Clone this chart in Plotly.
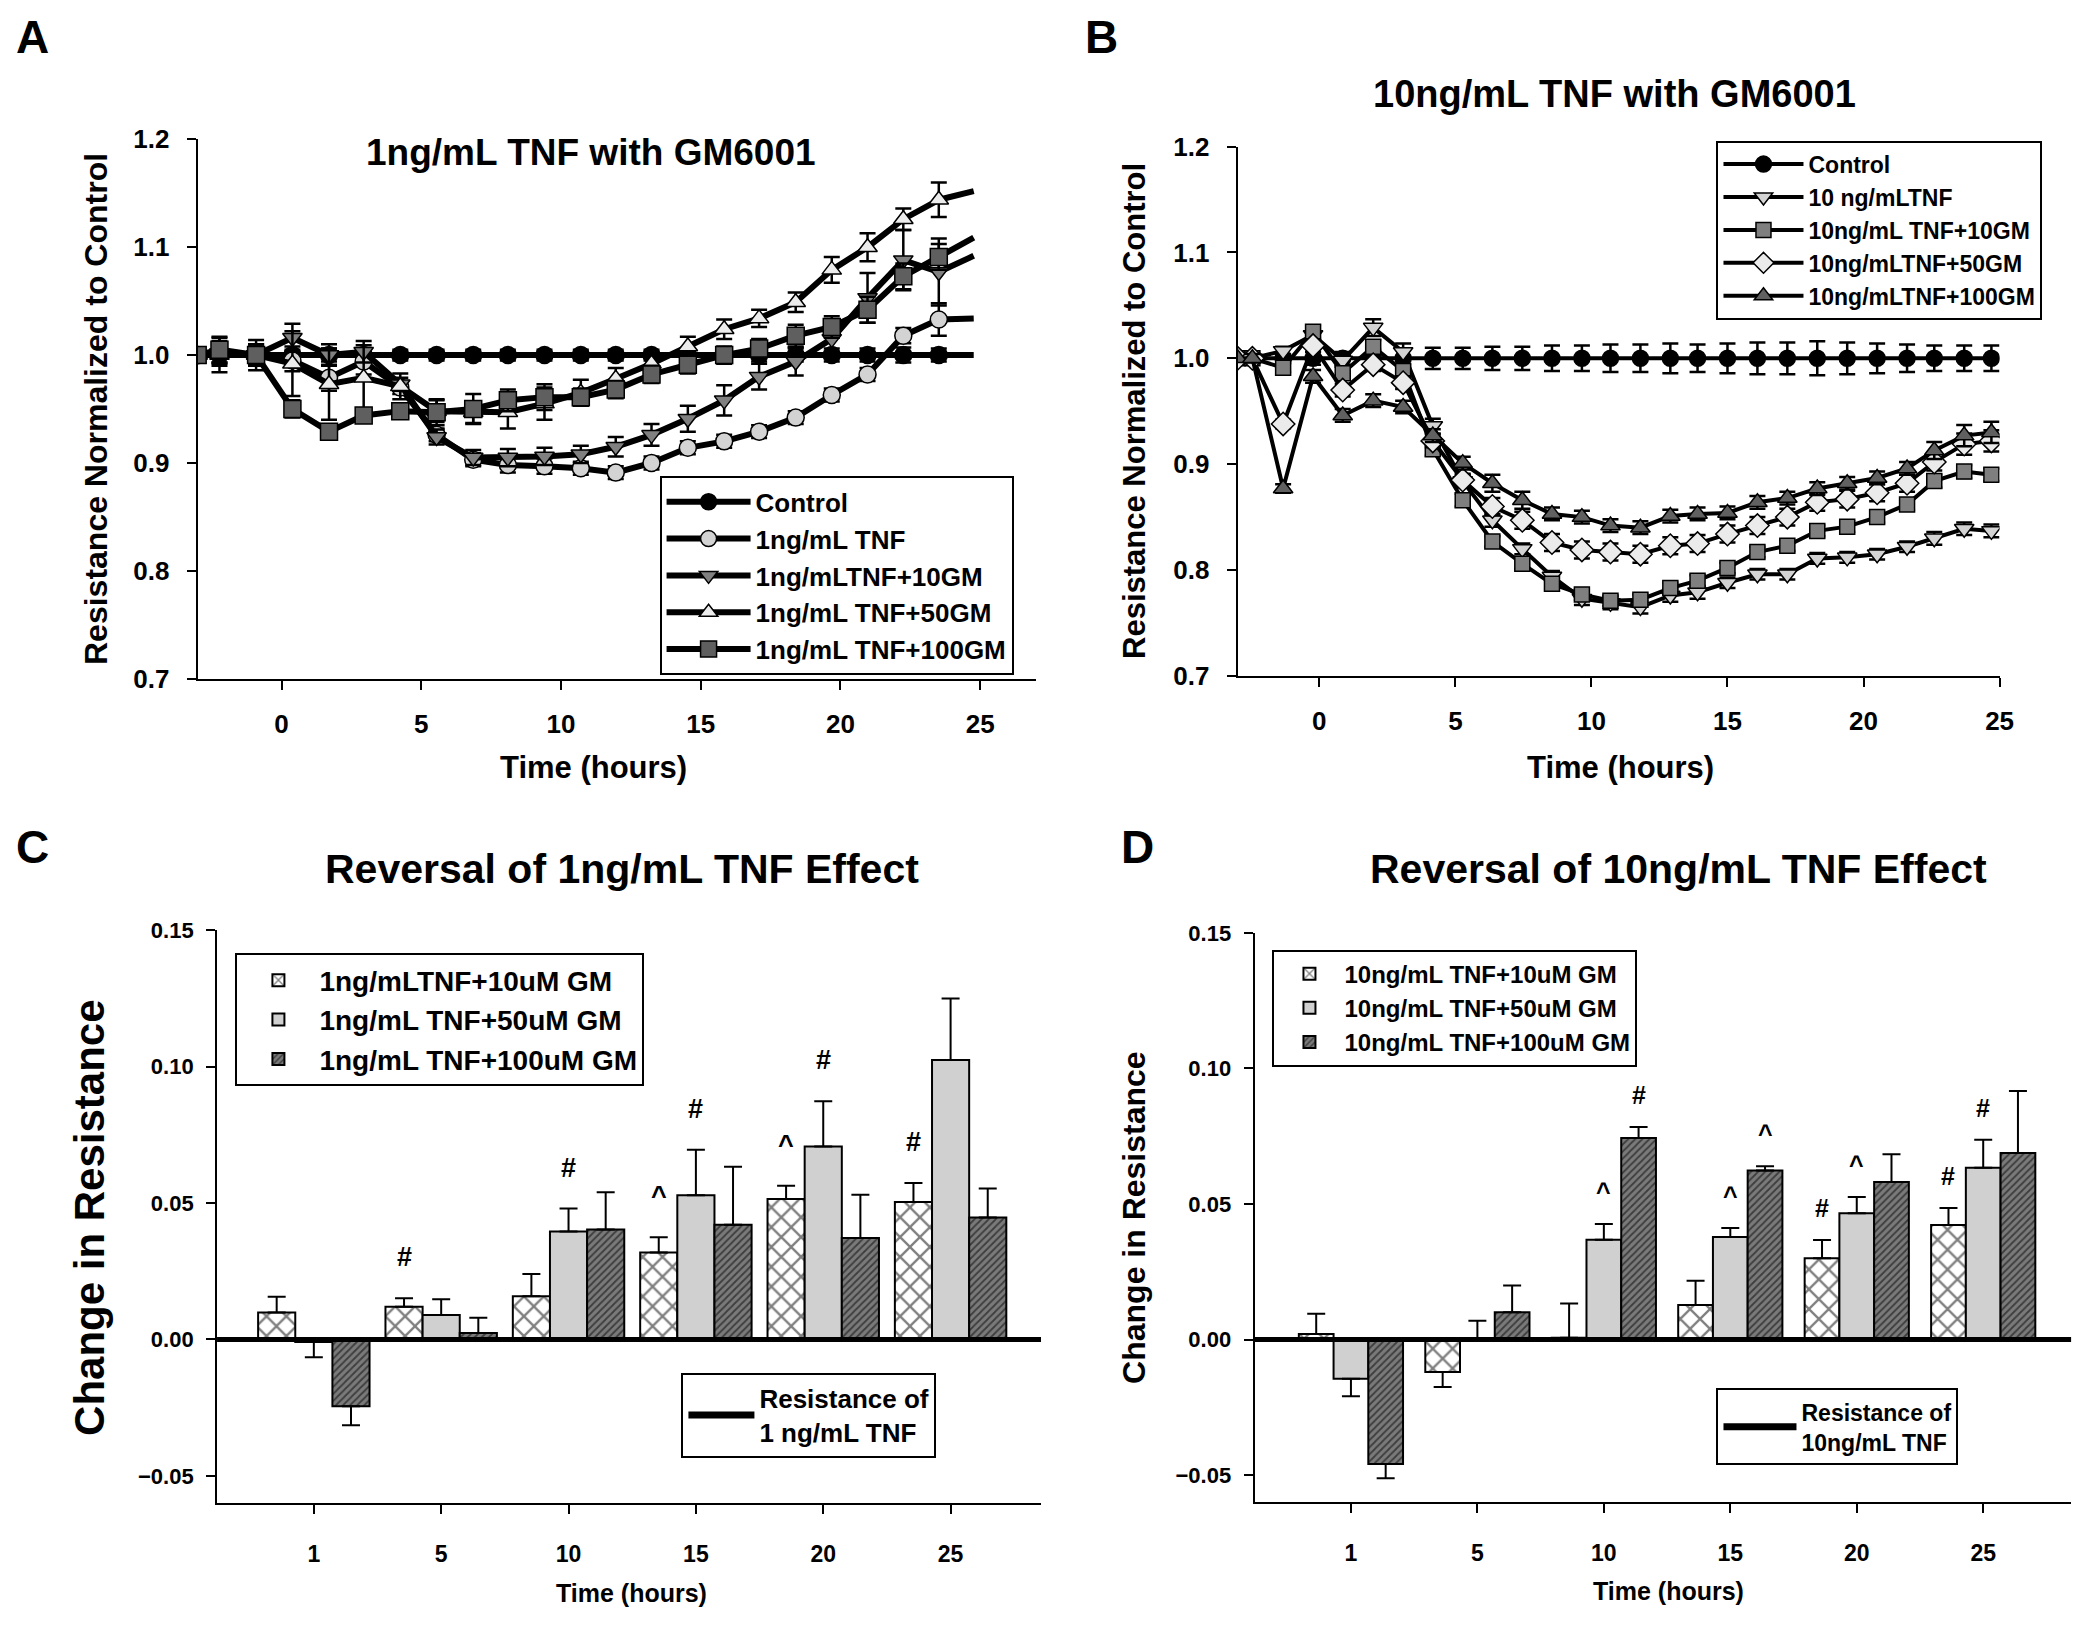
import plotly.graph_objects as go

W, H = 2100, 1635
FONT = "Liberation Sans, Arial, sans-serif"

# ---------------- Panel A: 1ng/mL TNF with GM6001 ----------------
time_a = [-3.0, -2.22, -0.91, 0.39, 1.70, 2.94, 4.25, 5.55, 6.86, 8.10, 9.41, 10.71,
          11.96, 13.24, 14.54, 15.84, 17.09, 18.40, 19.69, 20.97, 22.25, 23.52, 24.77]
a_control = [1.0, 1.0, 1.0, 1.0, 1.0, 1.0, 1.0, 1.0, 1.0, 1.0, 1.0, 1.0,
             1.0, 1.0, 1.0, 1.0, 1.0, 1.0, 1.0, 1.0, 1.0, 1.0, 1.0]
a_tnf = [1.0, 1.003, 1.0, 0.995, 0.979, 0.994, 0.970, 0.926, 0.903, 0.898, 0.897, 0.895,
         0.891, 0.900, 0.914, 0.920, 0.929, 0.942, 0.963, 0.982, 1.018, 1.033, 1.034]
a_10gm = [1.0, 1.002, 1.0, 1.016, 1.0, 1.003, 0.973, 0.924, 0.905, 0.905, 0.906, 0.908,
          0.915, 0.926, 0.941, 0.958, 0.980, 0.994, 1.015, 1.053, 1.088, 1.077, 1.092]
a_50gm = [1.0, 1.0, 1.0, 0.992, 0.973, 0.979, 0.971, 0.948, 0.947, 0.947, 0.955, 0.965,
          0.978, 0.992, 1.008, 1.024, 1.034, 1.049, 1.079, 1.100, 1.126, 1.144, 1.152]
a_100gm = [1.0, 1.005, 1.0, 0.950, 0.929, 0.944, 0.948, 0.947, 0.950, 0.958, 0.961, 0.961,
           0.968, 0.982, 0.991, 1.0, 1.006, 1.018, 1.026, 1.042, 1.073, 1.091, 1.109]
a_control_err = [0, 0.016, 0.014, 0.008, 0.006, 0.005, 0.005, 0.005, 0.005, 0.005, 0.005, 0.005,
                 0.005, 0.005, 0.005, 0.006, 0.006, 0.006, 0.006, 0.006, 0.007, 0.006, 0]
a_tnf_err = [0, 0.010, 0.008, 0.010, 0.012, 0.012, 0.006, 0.006, 0.006, 0.007, 0.007, 0.006,
             0.006, 0.006, 0.006, 0.006, 0.006, 0.006, 0.006, 0.006, 0.007, 0.015, 0]
a_10gm_err = [0, 0.010, 0.010, 0.013, 0.010, 0.010, 0.006, 0.007, 0.007, 0.008, 0.008, 0.008,
              0.009, 0.010, 0.012, 0.014, 0.012, 0.013, 0.012, 0.023, 0.028, 0.031, 0]
a_50gm_err = [0, 0.010, 0.010, 0.030, 0.033, 0.030, 0.012, 0.010, 0.010, 0.015, 0.015, 0.012,
              0.010, 0.010, 0.009, 0.009, 0.008, 0.009, 0.012, 0.013, 0.010, 0.016, 0]
a_100gm_err = [0, 0.012, 0.010, 0.008, 0.006, 0.006, 0.006, 0.012, 0.014, 0.010, 0.012, 0.008,
               0.008, 0.008, 0.008, 0.008, 0.009, 0.010, 0.010, 0.012, 0.012, 0.012, 0]

# ---------------- Panel B: 10ng/mL TNF with GM6001 ----------------
time_b = [-3.0, -2.46, -1.33, -0.23, 0.86, 1.98, 3.08, 4.17, 5.27, 6.36, 7.46, 8.55, 9.65, 10.7,
          11.8, 12.9, 13.9, 15.0, 16.1, 17.2, 18.3, 19.4, 20.5, 21.6, 22.6, 23.7, 24.7]
b_control = [1.0, 1.0, 1.0, 1.0, 1.0, 1.0, 1.0, 1.0, 1.0, 1.0, 1.0, 1.0, 1.0, 1.0,
             1.0, 1.0, 1.0, 1.0, 1.0, 1.0, 1.0, 1.0, 1.0, 1.0, 1.0, 1.0, 1.0]
b_tnf = [1.0, 1.0, 1.007, 1.022, 0.998, 1.029, 1.006, 0.936, 0.884, 0.847, 0.820, 0.794, 0.773, 0.769,
         0.765, 0.776, 0.779, 0.788, 0.796, 0.796, 0.811, 0.812, 0.815, 0.822, 0.830, 0.839, 0.837]
b_10gm = [1.0, 1.0, 0.991, 1.025, 0.986, 1.011, 0.988, 0.914, 0.866, 0.827, 0.806, 0.787, 0.777, 0.771,
          0.772, 0.783, 0.790, 0.802, 0.817, 0.823, 0.837, 0.841, 0.850, 0.862, 0.884, 0.893, 0.890]
b_50gm = [1.0, 1.0, 0.938, 1.012, 0.970, 0.994, 0.977, 0.922, 0.885, 0.860, 0.847, 0.826, 0.819, 0.817,
          0.815, 0.823, 0.825, 0.834, 0.842, 0.850, 0.864, 0.867, 0.873, 0.882, 0.902, 0.919, 0.922]
b_100gm = [1.0, 1.0, 0.877, 0.983, 0.946, 0.960, 0.954, 0.927, 0.901, 0.882, 0.866, 0.853, 0.850, 0.842,
           0.840, 0.851, 0.853, 0.854, 0.864, 0.868, 0.877, 0.882, 0.887, 0.896, 0.913, 0.927, 0.930]
b_control_err = [0, 0.004, 0.004, 0.006, 0.006, 0.008, 0.009, 0.010, 0.010, 0.011, 0.011, 0.012, 0.012, 0.013,
                 0.013, 0.014, 0.013, 0.014, 0.015, 0.015, 0.016, 0.015, 0.014, 0.013, 0.012, 0.012, 0.012]
b_tnf_err = [0, 0.004, 0.004, 0.006, 0.006, 0.008, 0.008, 0.007, 0.006, 0.006, 0.005, 0.005, 0.006, 0.006,
             0.006, 0.006, 0.006, 0.005, 0.005, 0.005, 0.005, 0.005, 0.005, 0.005, 0.006, 0.006, 0.006]
b_10gm_err = [0, 0.004, 0.004, 0.006, 0.006, 0.006, 0.006, 0.006, 0.006, 0.005, 0.005, 0.005, 0.005, 0.005,
              0.005, 0.005, 0.005, 0.005, 0.005, 0.005, 0.005, 0.005, 0.005, 0.005, 0.006, 0.006, 0.006]
b_50gm_err = [0, 0.004, 0.004, 0.006, 0.006, 0.006, 0.006, 0.006, 0.006, 0.008, 0.008, 0.008, 0.008, 0.008,
              0.008, 0.008, 0.008, 0.008, 0.008, 0.008, 0.008, 0.008, 0.008, 0.008, 0.008, 0.010, 0.010]
b_100gm_err = [0, 0.004, 0.004, 0.006, 0.006, 0.006, 0.006, 0.006, 0.006, 0.008, 0.008, 0.006, 0.006, 0.006,
               0.006, 0.006, 0.006, 0.006, 0.006, 0.006, 0.006, 0.006, 0.006, 0.006, 0.008, 0.010, 0.010]

# ---------------- Panels C / D: change in resistance ----------------
bar_times = ["1", "5", "10", "15", "20", "25"]
c_10 = [0.0099, 0.0120, 0.0158, 0.0319, 0.0515, 0.0504]
c_10_err = [0.0058, 0.0031, 0.0082, 0.0056, 0.0048, 0.0069]
c_50 = [-0.0009, 0.0090, 0.0396, 0.0529, 0.0707, 0.1024]
c_50_err = [0.0056, 0.0057, 0.0084, 0.0166, 0.0166, 0.0226]
c_100 = [-0.0245, 0.0024, 0.0403, 0.0420, 0.0372, 0.0447]
c_100_err = [0.0069, 0.0056, 0.0137, 0.0213, 0.0158, 0.0106]
c_marks = [(1, 0, "#"), (2, 1, "#"), (3, 0, "^"), (3, 1, "#"), (4, 0, "^"), (4, 1, "#"), (5, 0, "#")]

d_10 = [0.0020, -0.0120, 0.0007, 0.0127, 0.0300, 0.0422]
d_10_err = [0.0075, 0.0055, 0.0126, 0.0090, 0.0067, 0.0063]
d_50 = [-0.0145, 0.0003, 0.0368, 0.0378, 0.0466, 0.0634]
d_50_err = [0.0064, 0.0066, 0.0058, 0.0033, 0.0060, 0.0103]
d_100 = [-0.0459, 0.0101, 0.0743, 0.0623, 0.0581, 0.0688]
d_100_err = [0.0053, 0.0098, 0.0041, 0.0016, 0.0102, 0.0229]
d_marks = [(2, 1, "^"), (2, 2, "#"), (3, 1, "^"), (3, 2, "^"), (4, 0, "#"), (4, 1, "^"), (5, 0, "#"), (5, 1, "#")]


def px(x):
    return x / W


def py(y):
    return 1 - y / H


def bold(size):
    return dict(family=FONT, size=size, color="black", weight="bold")


fig = go.Figure()


def add_line(t, y, err, name, symbol, color, xa, ya, legend, msize, lw, tail=False):
    if tail:
        # the line runs on past the last plotted marker
        fig.add_trace(go.Scatter(x=t[-2:], y=y[-2:], mode="lines", showlegend=False,
                                 line=dict(color="black", width=lw), xaxis=xa, yaxis=ya,
                                 hoverinfo="skip"))
        t, y, err = t[:-1], y[:-1], err[:-1]
    fig.add_trace(go.Scatter(
        x=t, y=y, name=name, mode="lines+markers", legend=legend, xaxis=xa, yaxis=ya,
        line=dict(color="black", width=lw),
        marker=dict(symbol=symbol, size=msize, color=color, line=dict(color="black", width=1.5)),
        error_y=dict(type="data", array=err, color="black", thickness=2.5, width=8),
    ))


for y, e, name, sym, col in [
    (a_control, a_control_err, "Control", "circle", "black"),
    (a_tnf, a_tnf_err, "1ng/mL TNF", "circle", "#d3d3d3"),
    (a_10gm, a_10gm_err, "1ng/mLTNF+10GM", "triangle-down", "#808080"),
    (a_50gm, a_50gm_err, "1ng/mL TNF+50GM", "triangle-up", "#ececec"),
    (a_100gm, a_100gm_err, "1ng/mL TNF+100GM", "square", "#5f5f5f"),
]:
    add_line(time_a, y, e, name, sym, col, "x", "y", "legend", 17, 6, tail=True)

for y, e, name, sym, col, ms in [
    (b_control, b_control_err, "Control", "circle", "black", 16),
    (b_tnf, b_tnf_err, "10 ng/mLTNF", "triangle-down", "#d3d3d3", 17),
    (b_10gm, b_10gm_err, "10ng/mL TNF+10GM", "square", "#7f7f7f", 15),
    (b_50gm, b_50gm_err, "10ng/mLTNF+50GM", "diamond", "#ebebeb", 18),
    (b_100gm, b_100gm_err, "10ng/mLTNF+100GM", "triangle-up", "#606060", 17),
]:
    add_line(time_b, y, e, name, sym, col, "x2", "y2", "legend2", ms, 4)

cross = dict(color="white", pattern=dict(shape="x", fgcolor="black", bgcolor="white", size=14, solidity=0.3))
gray = dict(color="#d0d0d0")
hatch = dict(color="#7a7a7a", pattern=dict(shape="/", fgcolor="black", bgcolor="#7a7a7a", size=5, solidity=0.35))


def add_bars(series, xa, ya, legend, gap):
    width = (1 - gap) / 3
    offsets = [-1.5 * width, -0.5 * width, 0.5 * width]
    for i, (vals, errs, name, style) in enumerate(series):
        up = [e if v >= 0 else 0 for v, e in zip(vals, errs)]
        down = [e if v < 0 else 0 for v, e in zip(vals, errs)]
        fig.add_trace(go.Bar(
            x=bar_times, y=vals, name=name, legend=legend, xaxis=xa, yaxis=ya,
            width=width, offset=offsets[i],
            marker=dict(line=dict(color="black", width=2), **style),
            error_y=dict(type="data", symmetric=False, array=up, arrayminus=down,
                         color="black", thickness=2, width=9),
        ))
    return width, offsets


c_series = [(c_10, c_10_err, "1ng/mLTNF+10uM GM", cross),
            (c_50, c_50_err, "1ng/mL TNF+50uM GM", gray),
            (c_100, c_100_err, "1ng/mL TNF+100uM GM", hatch)]
d_series = [(d_10, d_10_err, "10ng/mL TNF+10uM GM", cross),
            (d_50, d_50_err, "10ng/mL TNF+50uM GM", gray),
            (d_100, d_100_err, "10ng/mL TNF+100uM GM", hatch)]
c_w, c_off = add_bars(c_series, "x3", "y3", "legend3", 0.125)
d_w, d_off = add_bars(d_series, "x4", "y4", "legend5", 0.176)

# legend-only entries for the reference line at zero
fig.add_trace(go.Scatter(x=[None], y=[None], mode="lines", name="Resistance of<br>1 ng/mL TNF",
                         line=dict(color="black", width=7), legend="legend4", xaxis="x3", yaxis="y3"))
fig.add_trace(go.Scatter(x=[None], y=[None], mode="lines", name="Resistance of<br>10ng/mL TNF",
                         line=dict(color="black", width=7), legend="legend6", xaxis="x4", yaxis="y4"))
for xa, ya in [("x3", "y3"), ("x4", "y4")]:
    fig.add_shape(type="line", xref=xa + " domain", yref=ya, x0=0, x1=1, y0=0, y1=0,
                  line=dict(color="black", width=5), layer="above")

ann = []


def sig(marks, series, width, offsets, xa, ya, shift, size):
    for g, s, sym in marks:
        v, e = series[s][0][g], series[s][1][g]
        ann.append(dict(x=g + offsets[s] + width / 2, y=v + e, xref=xa, yref=ya, text=sym,
                        showarrow=False, yanchor="bottom", yshift=shift, font=bold(size)))


sig(c_marks, c_series, c_w, c_off, "x3", "y3", 24, 27)
sig(d_marks, d_series, d_w, d_off, "x4", "y4", 16, 25)


def label(text, x, y, size, angle=0):
    ann.append(dict(text=text, x=px(x), y=py(y), xref="paper", yref="paper", showarrow=False,
                    xanchor="center", yanchor="middle", textangle=angle, font=bold(size)))


label("A", 33, 22, 46)
label("B", 1109, 22, 46)
label("C", 33, 848, 46)
label("D", 1145, 848, 46)
label("1ng/mL TNF with GM6001", 595, 140, 37)
label("10ng/mL TNF with GM6001", 1625, 80, 38)
label("Reversal of 1ng/mL TNF Effect", 626, 870, 41)
label("Reversal of 10ng/mL TNF Effect", 1690, 870, 41)
label("Resistance Normalized to Control", 96, 401, 32, -90)
label("Resistance Normalized to Control", 1142, 403, 31, -90)
label("Time (hours)", 597, 767, 31)
label("Time (hours)", 1631, 767, 31)
label("Change in Resistance", 90, 1225, 42, -90)
label("Change in Resistance", 1141, 1225, 32, -90)
label("Time (hours)", 636, 1607, 25)
label("Time (hours)", 1680, 1605, 25)


def axis(**kw):
    base = dict(showline=True, linecolor="black", linewidth=2, ticks="outside", ticklen=9,
                tickwidth=2, tickcolor="black", showgrid=False, zeroline=False, tickfont=bold(26))
    base.update(kw)
    return base


def legend_box(x, y, size, item):
    return dict(x=px(x), y=py(y), xanchor="left", yanchor="top", bgcolor="white",
                bordercolor="black", borderwidth=2, font=bold(size), tracegroupgap=0,
                itemwidth=item)


hour_ticks = [0, 5, 10, 15, 20, 25]
fig.update_layout(
    width=W, height=H, margin=dict(l=0, r=0, t=0, b=0),
    paper_bgcolor="white", plot_bgcolor="white", barmode="overlay",
    font=dict(family=FONT, color="black"),
    xaxis=axis(domain=[px(199), px(1043)], range=[-3, 27], tickvals=hour_ticks, anchor="y",
               ticklabelstandoff=12),
    yaxis=axis(domain=[py(676), py(126.7)], range=[0.7, 1.2], dtick=0.1, tickformat=".1f",
               anchor="x", ticklabelstandoff=12),
    xaxis2=axis(domain=[px(1246), px(2013)], range=[-3, 25], tickvals=hour_ticks, anchor="y2",
                ticklabelstandoff=12),
    yaxis2=axis(domain=[py(673.3), py(134)], range=[0.7, 1.2], dtick=0.1, tickformat=".1f",
                anchor="x2", ticklabelstandoff=12),
    xaxis3=axis(domain=[px(218.5), px(1048)], type="category", range=[-0.76, 5.71], anchor="y3",
                tickfont=bold(23), ticklabelstandoff=20),
    yaxis3=axis(domain=[py(1516), py(932.3)], range=[-0.06, 0.15],
                tickvals=[-0.05, 0, 0.05, 0.10, 0.15], tickformat=".2f", anchor="x3",
                tickfont=bold(22), ticklabelstandoff=8),
    xaxis4=axis(domain=[px(1263), px(2085)], type="category", range=[-0.762, 5.695], anchor="y4",
                tickfont=bold(23), ticklabelstandoff=20),
    yaxis4=axis(domain=[py(1515), py(935)], range=[-0.06, 0.15],
                tickvals=[-0.05, 0, 0.05, 0.10, 0.15], tickformat=".2f", anchor="x4",
                tickfont=bold(22), ticklabelstandoff=8),
    legend=legend_box(664, 470, 26, 84),
    legend2=legend_box(1728, 128, 23, 80),
    legend3=legend_box(237, 956, 28, 72),
    legend4=legend_box(686, 1383, 26, 66),
    legend5=legend_box(1281, 952, 24, 60),
    legend6=legend_box(1728, 1399, 23, 73),
    annotations=ann,
    showlegend=True,
)

fig.write_html("out.html", config={"displayModeBar": False},
               post_script="document.body.style.margin='0';document.body.style.overflow='hidden';")
